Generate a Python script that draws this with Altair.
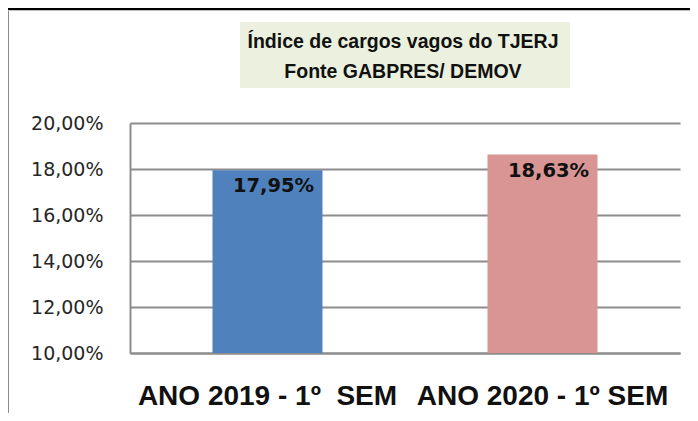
import altair as alt
import pandas as pd

categories = ["ANO 2019 - 1º \u00a0SEM", "ANO 2020 - 1º SEM"]
values = [0.1795, 0.1863]
value_labels = ["17,95%", "18,63%"]
bar_colors = ["#4f81bd", "#d99594"]
title_lines = ["Índice de cargos vagos do TJERJ", "Fonte GABPRES/ DEMOV"]
y_ticks = [0.10, 0.12, 0.14, 0.16, 0.18, 0.20]

df = pd.DataFrame({"cat": categories, "val": values, "label": value_labels, "color": bar_colors})

GRID = "#8c8c8c"
W, H = 550, 230

x_enc = alt.X("cat:N", sort=categories, title=None,
              scale=alt.Scale(paddingInner=0.6, paddingOuter=0.3),
              axis=alt.Axis(labelAngle=0, ticks=False, tickSize=0, labelPadding=51,
                            labelBaseline="alphabetic", labelFont="Liberation Sans",
                            labelFontSize=28, labelFontWeight="bold", labelColor="#111111",
                            labelLimit=600, labelOverlap=False,
                            domainColor=GRID, domainWidth=2))
y_enc = alt.Y("val:Q", title=None,
              scale=alt.Scale(domain=[0.10, 0.20], nice=False, zero=False),
              axis=alt.Axis(values=y_ticks, ticks=False, tickSize=0, labelPadding=27,
                            labelExpr="replace(format(datum.value, '.2%'), '.', ',')",
                            labelFont="DejaVu Sans", labelFontSize=19, labelColor="#262626",
                            grid=True, gridColor=GRID, gridWidth=2,
                            domainColor=GRID, domainWidth=2))

bars = alt.Chart(df).mark_bar(clip=True).encode(
    x=x_enc, y=y_enc,
    color=alt.Color("color:N", scale=None),
)

texts = alt.Chart(df).mark_text(baseline="alphabetic", dy=22, dx=6, font="DejaVu Sans",
                                fontSize=19.5, fontWeight="bold", color="#111111").encode(
    x=alt.X("cat:N", sort=categories), y="val:Q", text="label:N")

one = alt.Data(values=[{}])

title_box = alt.Chart(one).mark_rect(color="#ebf1de").encode(
    x=alt.value(110), x2=alt.value(440), y=alt.value(-101), y2=alt.value(-35))

title1 = alt.Chart(one).mark_text(font="Liberation Sans", fontSize=19.5, fontWeight="bold",
                                  color="#111111", baseline="alphabetic", align="center").encode(
    x=alt.value(273), y=alt.value(-75), text=alt.value(title_lines[0]))
title2 = alt.Chart(one).mark_text(font="Liberation Sans", fontSize=19.5, fontWeight="bold",
                                  color="#111111", baseline="alphabetic", align="center").encode(
    x=alt.value(273), y=alt.value(-45), text=alt.value(title_lines[1]))

top_line = alt.Chart(one).mark_rule(color="#000000", strokeWidth=2.5).encode(
    x=alt.value(-122), x2=alt.value(W + 10), y=alt.value(-114))
left_line = alt.Chart(one).mark_rule(color=GRID, strokeWidth=2).encode(
    x=alt.value(-122), y=alt.value(-112), y2=alt.value(H + 60))

chart = alt.layer(title_box, title1, title2, top_line, left_line, bars, texts).properties(
    width=W, height=H,
    autosize=alt.AutoSizeParams(type="none"),
    padding={"left": 122, "top": 115, "right": 10, "bottom": 60},
).configure_view(stroke=None)

chart.save("out.html", embed_options={"renderer": "svg", "actions": False})
